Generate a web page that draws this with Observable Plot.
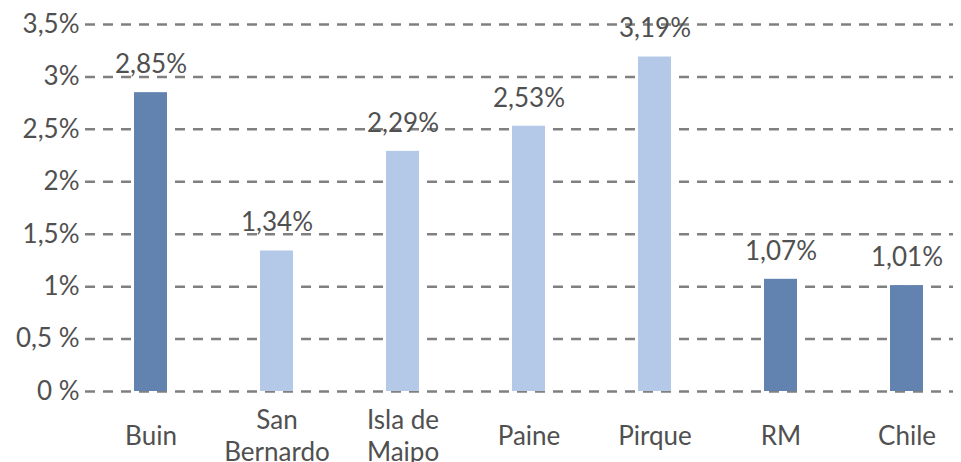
<!DOCTYPE html>
<html><head><meta charset="utf-8">
<script src="https://cdn.jsdelivr.net/npm/d3@7"></script>
<script src="https://cdn.jsdelivr.net/npm/@observablehq/plot@0.6"></script>
<style>body{margin:0;background:#fff}</style>
</head><body><div id="chart"></div>
<script>
const categories = ["Buin", "San\nBernardo", "Isla de\nMaipo", "Paine", "Pirque", "RM", "Chile"];
const values = [2.85, 1.34, 2.29, 2.53, 3.19, 1.07, 1.01];
const valueLabels = ["2,85%", "1,34%", "2,29%", "2,53%", "3,19%", "1,07%", "1,01%"];
const groups = ["dark", "light", "light", "light", "light", "dark", "dark"];
const yTicks = [0, 0.5, 1, 1.5, 2, 2.5, 3, 3.5];
const yTickLabels = ["0 %", "0,5 %", "1%", "1,5%", "2%", "2,5%", "3%", "3,5%"];

const data = categories.map((c, i) => ({cat: c, v: values[i], lab: valueLabels[i], g: groups[i]}));
const font = "Lato, 'Open Sans', sans-serif";

const chart = Plot.plot({
  width: 961, height: 462,
  marginLeft: 85, marginRight: 8, marginTop: 24, marginBottom: 71,
  style: {fontFamily: font, fontSize: "26px", color: "#505050", background: "#fff"},
  x: {domain: categories, range: [84.6, 972], paddingInner: 0.74, paddingOuter: 0.37, axis: null},
  y: {domain: [0, 3.5], axis: null},
  color: {domain: ["dark", "light"], range: ["#6283B0", "#B4C9E7"]},
  marks: [
    Plot.ruleY(yTicks, {stroke: "#808080", strokeWidth: 2.5, strokeDasharray: "10,8", strokeOpacity: 1}),
    Plot.barY(data, {x: "cat", y: "v", fill: "g"}),
    Plot.text(data, {x: "cat", y: "v", text: "lab", dy: -28, fill: "#505050", fontSize: 26}),
    Plot.text(yTicks, {y: d => d, text: (d, i) => yTickLabels[i], frameAnchor: "left", textAnchor: "end", dx: -6, fill: "#505050", fontSize: 26}),
    Plot.text(data, {x: "cat", text: "cat", frameAnchor: "bottom", dy: 43, lineAnchor: "middle", lineHeight: 1.22, fill: "#505050", fontSize: 26})
  ]
});
document.getElementById("chart").append(chart);
</script></body></html>
